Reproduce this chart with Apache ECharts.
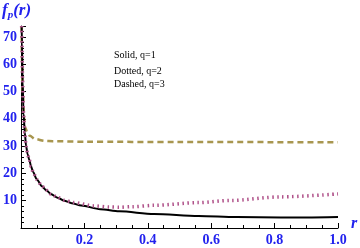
<!DOCTYPE html>
<html><head><meta charset="utf-8">
<script src="https://cdn.jsdelivr.net/npm/echarts@6/dist/echarts.min.js"></script>
<style>html,body{margin:0;padding:0;background:#fff}#c{width:360px;height:248px}</style>
</head><body><div id="c"></div>
<script>
// Solid, q=1
const solidR = [0.002,0.003,0.005,0.008,0.012,0.016,0.021,0.026,0.032,0.038,0.05,0.066,0.08,0.094,0.115,0.136,0.16,0.19,0.25,0.31,0.42,0.56,0.68,0.82,0.9,1.0];
const solidF = [74,68,54,42,35,30,27,25,22.5,20.5,17.8,15.3,13.8,12.5,11.1,10.0,9.1,8.2,6.9,6.1,5.1,4.4,4.0,3.85,3.85,4.0];
// Dotted, q=2
const dottedR = [0.002,0.003,0.005,0.008,0.012,0.016,0.021,0.026,0.032,0.038,0.05,0.066,0.08,0.094,0.115,0.136,0.167,0.23,0.28,0.31,0.35,0.42,0.56,0.66,0.82,1.0];
const dottedF = [74,68,54,42,35,30,27,25,22.5,20.5,17.8,15.3,13.8,12.5,11.2,10.2,9.3,8.1,7.7,7.6,7.8,8.3,9.3,10.1,11.4,12.5];
// Dashed, q=3
const dashedR = [0.002,0.003,0.006,0.009,0.0126,0.02,0.028,0.044,0.075,0.1,0.2,0.5,1.0];
const dashedF = [74,62,49,41,37,35,33.8,32.6,31.9,31.8,31.6,31.5,31.4];
const legendTexts = ['Solid, q=1','Dotted, q=2','Dashed, q=3'];

const pair = (xs, ys) => xs.map((x, i) => [x, ys[i]]);
const blue = '#2222ee';
const chart = echarts.init(document.getElementById('c'), null, {renderer: 'canvas'});
chart.setOption({
  animation: false,
  grid: {left: 20, right: 22, top: 26, bottom: 20},
  xAxis: {
    type: 'value', min: 0, max: 1, interval: 0.2,
    axisLine: {onZero: false, lineStyle: {color: '#000', width: 1}},
    axisTick: {inside: true, length: 5, lineStyle: {color: '#000'}},
    minorTick: {show: true, splitNumber: 4, length: 3, lineStyle: {color: '#000'}},
    splitLine: {show: false},
    axisLabel: {margin: 5, color: blue, fontFamily: 'Liberation Serif', fontWeight: 'bold', fontSize: 14,
      formatter: v => v === 0 ? '' : v.toFixed(1)}
  },
  yAxis: {
    type: 'value', min: 0, max: 74, interval: 10,
    axisLine: {show: true, onZero: false, lineStyle: {color: '#000', width: 1}},
    axisTick: {show: true, inside: true, length: 5, lineStyle: {color: '#000'}},
    minorTick: {show: true, splitNumber: 5, length: 3, lineStyle: {color: '#000'}},
    splitLine: {show: false},
    axisLabel: {margin: 4, color: blue, fontFamily: 'Liberation Serif', fontWeight: 'bold', fontSize: 14,
      formatter: v => (v > 0 && v % 10 === 0) ? String(v) : ''}
  },
  series: [
    {type: 'line', data: pair(dashedR, dashedF), smooth: 0.3, smoothMonotone: 'x', symbol: 'none', clip: true,
      lineStyle: {color: '#a8964f', width: 2.5, type: [6, 4]}},
    {type: 'line', data: pair(solidR, solidF), smooth: 0.3, smoothMonotone: 'x', symbol: 'none', clip: true,
      lineStyle: {color: '#000', width: 2}},
    {type: 'line', data: pair(dottedR, dottedF), smooth: 0.3, smoothMonotone: 'x', symbol: 'none', clip: true,
      lineStyle: {color: '#b0528a', width: 3.5, type: [1.5, 3.5]}}
  ],
  graphic: [
    {type: 'text', left: 2, top: 2, style: {
      text: '{f|f}{s|p}{f|(r)}', fill: blue,
      rich: {
        f: {fontFamily: 'Liberation Serif', fontStyle: 'italic', fontWeight: 'bold', fontSize: 17, fill: blue},
        s: {fontFamily: 'Liberation Serif', fontStyle: 'italic', fontWeight: 'bold', fontSize: 11, fill: blue, padding: [9, 0, 0, 0]}
      }}},
    {type: 'text', left: 351, top: 216, style: {text: 'r', fontFamily: 'Liberation Serif', fontStyle: 'italic', fontWeight: 'bold', fontSize: 16, fill: blue}},
    {type: 'text', left: 114, top: 50, style: {text: legendTexts[0], fontFamily: 'Liberation Serif', fontSize: 10, fill: '#000'}},
    {type: 'text', left: 114, top: 66, style: {text: legendTexts[1], fontFamily: 'Liberation Serif', fontSize: 10, fill: '#000'}},
    {type: 'text', left: 114, top: 79, style: {text: legendTexts[2], fontFamily: 'Liberation Serif', fontSize: 10, fill: '#000'}}
  ]
});
</script></body></html>
